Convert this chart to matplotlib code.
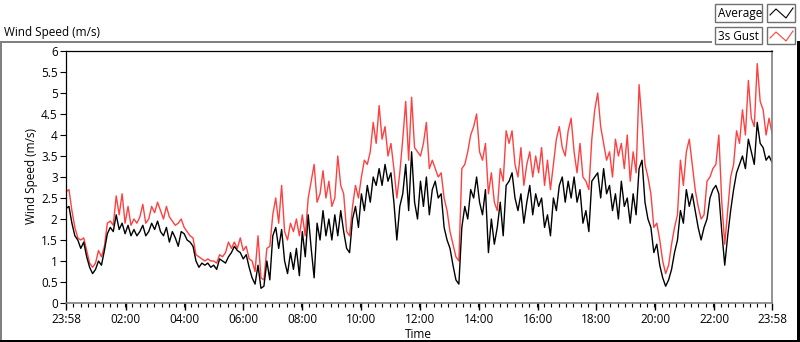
import numpy as np
import matplotlib
matplotlib.use('Agg')
import matplotlib.pyplot as plt
from matplotlib.lines import Line2D
from matplotlib.patches import Rectangle
from matplotlib.ticker import FixedLocator, MultipleLocator, FuncFormatter

# ---------------- data (6-minute samples, 23:58 -> 23:58) ----------------
avg = [
    2.25, 2.3, 1.9, 1.6, 1.5, 1.3, 1.45, 1.1, 0.85, 0.7,
    0.8, 1.0, 0.9, 1.25, 1.65, 1.8, 1.7, 2.1, 1.75, 1.9,
    1.65, 1.85, 1.6, 1.75, 1.6, 1.7, 1.85, 1.6, 1.7, 1.9,
    1.75, 1.95, 1.7, 1.6, 1.8, 1.45, 1.7, 1.55, 1.35, 1.7,
    1.65, 1.5, 1.45, 1.35, 1.0, 0.85, 0.95, 0.9, 0.95, 0.85,
    0.9, 0.8, 1.05, 1.0, 0.95, 1.1, 1.2, 1.35, 1.25, 1.2,
    1.05, 1.15, 0.85, 0.6, 0.45, 0.9, 0.35, 0.4, 1.0, 0.55,
    1.6, 1.8, 1.3, 1.75, 1.0, 0.7, 1.2, 0.8, 1.3, 0.65,
    1.7, 1.1, 2.1, 1.3, 0.6, 1.9, 1.5, 2.2, 1.6, 2.0,
    1.5, 2.1, 1.6, 2.2, 1.7, 1.3, 1.2, 2.0, 2.3, 1.8,
    2.6, 2.2, 2.8, 2.4, 3.0, 2.8, 3.2, 2.8, 3.3, 2.9,
    3.1, 2.4, 1.5, 2.3, 2.6, 3.3, 2.2, 3.6, 2.4, 2.0,
    2.9, 2.3, 3.0, 2.1, 2.7, 2.9, 2.5, 2.6, 1.8, 1.5,
    1.3, 0.9, 0.55, 0.45, 1.8, 2.3, 2.0, 2.7, 2.5, 3.0,
    2.4, 2.1, 2.7, 1.2, 2.0, 1.4, 1.8, 2.4, 1.6, 2.8,
    2.9, 3.1, 2.5, 2.2, 2.6, 1.9, 2.4, 2.8, 2.1, 2.6,
    2.3, 2.5, 1.8, 2.1, 1.6, 2.5, 2.2, 2.8, 3.0, 2.4,
    2.9, 2.5, 3.0, 2.4, 2.7, 1.9, 2.2, 1.7, 2.9, 3.0,
    3.1, 2.5, 3.2, 2.6, 2.8, 2.2, 2.6, 2.0, 2.9, 2.3,
    2.5, 1.9, 2.6, 2.1, 3.2, 3.4, 2.4, 2.0, 1.8, 1.2,
    1.4, 0.9, 0.6, 0.4, 0.55, 0.8, 1.2, 1.5, 2.2, 1.9,
    2.7, 2.3, 2.6, 2.2, 1.8, 1.5, 1.8, 2.0, 2.5, 2.7,
    2.8, 2.6, 1.7, 0.9, 1.6, 2.2, 2.7, 3.1, 3.3, 3.5,
    3.2, 3.9, 3.6, 3.3, 4.3, 3.8, 3.7, 3.4, 3.5, 3.35,
]
gust = [
    2.65, 2.7, 2.2, 1.8, 1.55, 1.5, 1.55, 1.25, 0.95, 0.85,
    0.95, 1.25, 1.1, 1.35, 1.9, 1.95, 1.85, 2.55, 2.1, 2.6,
    1.9, 2.3, 1.85, 2.0, 1.9, 2.05, 2.35, 1.9, 2.0, 2.3,
    2.15, 2.4, 2.2, 2.0, 2.3, 2.05, 1.95, 1.85, 1.9, 2.0,
    1.8, 1.7, 1.6, 1.55, 1.15, 1.1, 1.05, 1.0, 1.05, 1.0,
    1.0, 0.95, 1.15, 1.1, 1.2, 1.45, 1.3, 1.45, 1.3, 1.55,
    1.25, 1.35, 1.05, 1.0, 0.75, 1.6, 0.6, 0.55, 1.3, 1.35,
    2.1, 2.5, 1.9, 2.8, 1.7, 1.5, 1.9, 1.7, 2.0, 1.6,
    2.1, 1.6, 2.5, 2.9, 3.3, 2.4, 2.6, 3.15, 2.5, 2.9,
    2.3, 2.5, 3.5, 2.8, 2.6, 1.7, 1.6, 2.3, 2.8, 2.5,
    3.0, 3.4, 3.3, 3.6, 4.3, 3.8, 4.7, 3.9, 4.2, 3.5,
    3.8, 3.2, 2.5, 3.1, 3.9, 4.8, 3.4, 4.9, 3.7, 3.6,
    3.5, 3.8, 4.3, 3.2, 3.4, 3.2, 3.0, 3.1, 2.5, 2.2,
    1.7, 1.4, 1.1, 1.0, 3.2, 3.3, 3.6, 4.0, 4.2, 4.5,
    3.6, 3.4, 3.8, 2.6, 3.1, 2.4, 2.2, 3.2, 2.9, 4.1,
    3.8, 4.1, 3.3, 3.0, 3.7, 2.8, 3.3, 3.6, 3.0, 3.5,
    3.1, 3.7, 2.8, 3.4, 2.7, 3.3, 3.9, 4.2, 3.7, 3.5,
    4.1, 4.4, 3.6, 3.1, 3.8, 3.0, 2.9, 2.7, 3.9, 4.6,
    5.0, 4.2, 3.8, 3.4, 3.6, 3.0, 3.9, 3.5, 3.8, 3.2,
    4.0, 2.9, 3.6, 3.1, 5.2, 4.3, 3.3, 3.0, 2.6, 1.8,
    1.9, 1.5, 1.0, 0.7, 0.9, 1.4, 1.8, 2.1, 3.4, 2.8,
    3.6, 3.9, 3.3, 2.7, 2.3, 2.0, 2.1, 2.9, 3.0, 3.2,
    3.3, 4.0, 2.4, 1.4, 2.2, 3.0, 3.3, 4.1, 3.8, 4.6,
    4.0, 5.3, 4.4, 4.2, 5.7, 4.8, 4.6, 4.0, 4.4, 4.05,
]
xtick_minutes = [0, 122, 242, 362, 482, 602, 722, 842, 962, 1082, 1202, 1322, 1440]
xtick_labels = ['23:58', '02:00', '04:00', '06:00', '08:00', '10:00', '12:00',
                '14:00', '16:00', '18:00', '20:00', '22:00', '23:58']
series_names = ['Average', '3s Gust']

# ---------------- figure ----------------
plt.rcParams['font.family'] = ['Open Sans', 'DejaVu Sans']
W, H = 800, 342
fig = plt.figure(figsize=(W / 100, H / 100), dpi=100)
fig.patch.set_facecolor('white')

def fx(px):
    return px / W

def fy(py):
    return 1 - py / H

ax = fig.add_axes([fx(66), fy(303), fx(772) - fx(66), fy(51) - fy(303)])
n = len(avg)
t = np.arange(n) * 1440.0 / (n - 1)
ax.plot(t, gust, color='#ff4040', lw=1.0)
ax.plot(t, avg, color='black', lw=1.0)
ax.set_xlim(0, 1440)
ax.set_ylim(0, 6)

for s in ['left', 'top']:
    ax.spines[s].set_color('black')
    ax.spines[s].set_linewidth(0.9)
for s in ['right', 'bottom']:
    ax.spines[s].set_color('#808080')
    ax.spines[s].set_linewidth(1.2)

ax.yaxis.set_major_locator(MultipleLocator(0.5))
ax.yaxis.set_major_formatter(FuncFormatter(lambda v, p: f'{v:g}'))
ax.xaxis.set_major_locator(FixedLocator(xtick_minutes))
ax.set_xticklabels(xtick_labels)
ax.xaxis.set_minor_locator(MultipleLocator(15))
ax.tick_params(axis='y', which='major', length=4.5, width=0.8, pad=1.5, labelsize=8.5, color='black')
ax.tick_params(axis='x', which='major', length=5, width=1.0, pad=2.5, labelsize=8.5, color='black')
ax.tick_params(axis='x', which='minor', length=3, width=0.8, color='black')

# titles / labels
fig.text(fx(4), fy(36), 'Wind Speed (m/s)', fontsize=8.5, ha='left', va='baseline')
fig.text(fx(32), fy(176), 'Wind Speed (m/s)', fontsize=8.5, ha='center', va='center', rotation=90)
fig.text(fx(418), fy(334), 'Time', fontsize=8.5, ha='center', va='center')

# outer frame
def fline(x0, y0, x1, y1, color, lw=1.0):
    fig.add_artist(Line2D([fx(x0), fx(x1)], [fy(y0), fy(y1)], color=color, lw=lw,
                          transform=fig.transFigure, antialiased=False))

fline(0.5, 42, 711, 42, '#808080', 1.2)
fline(0.5, 42, 0.5, 341, '#808080', 1.2)
fline(0, 340.5, 798, 340.5, 'black', 1.0)
fline(797.5, 42, 797.5, 341, 'black', 1.0)

# legend
colors = ['black', '#ff4040']
rows = [(4, 22), (27, 44)]
for (y0, y1), name, c in zip(rows, series_names, colors):
    fig.add_artist(Rectangle((fx(715), fy(y1)), fx(762) - fx(715), fy(y0) - fy(y1),
                             transform=fig.transFigure, fill=False, ec='#707070', lw=1.0))
    fig.add_artist(Rectangle((fx(767), fy(y1)), fx(795) - fx(767), fy(y0) - fy(y1),
                             transform=fig.transFigure, fill=False, ec='#707070', lw=1.0))
    fig.text(fx(717.5), fy((y0 + y1) / 2 + 0.5), name, fontsize=8.5, ha='left', va='center')
    xs = [770, 776, 786, 793]
    ys = [y0 + 11, y0 + 5, y0 + 14, y0 + 4]
    fig.add_artist(Line2D([fx(v) for v in xs], [fy(v) for v in ys], color=c, lw=0.8,
                          transform=fig.transFigure))

fig.savefig('out.png', dpi=100, facecolor='white')
